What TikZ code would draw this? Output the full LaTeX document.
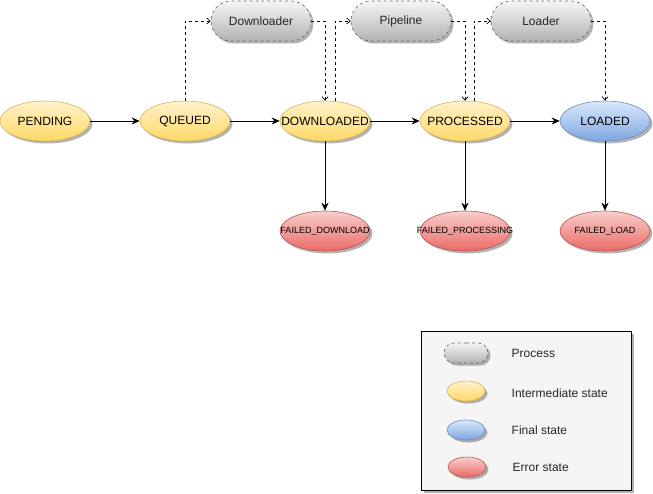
\documentclass[tikz,border=0pt]{standalone}
\usepackage{fontspec}
\setmainfont{Liberation Sans}
\usetikzlibrary{shapes.geometric,shapes.misc,arrows.meta,shadows}
\definecolor{ytop}{HTML}{FFF2CC}
\definecolor{ybot}{HTML}{FFD966}
\definecolor{ystroke}{HTML}{D6B656}
\definecolor{btop}{HTML}{DAE8FC}
\definecolor{bbot}{HTML}{7EA6E0}
\definecolor{bstroke}{HTML}{6C8EBF}
\definecolor{rtop}{HTML}{F8CECC}
\definecolor{rbot}{HTML}{EA6B66}
\definecolor{rstroke}{HTML}{B85450}
\definecolor{ptop}{HTML}{F5F5F5}
\definecolor{pbot}{HTML}{B3B3B3}
\definecolor{pstroke}{HTML}{666666}
\definecolor{legfill}{HTML}{F5F5F5}
\newcommand\ctrtxt[1]{\makebox[0pt][c]{#1}}
\begin{document}
\begin{tikzpicture}[x=1pt,y=-1pt,
  font=\fontsize{12}{14}\selectfont,
  shd/.style={drop shadow={shadow xshift=2.5pt,shadow yshift=-2.5pt,opacity=0.3,fill=black}},
  stbase/.style={ellipse,inner sep=0pt,line width=0.6pt,shd},
  inter/.style={stbase,draw=ystroke,top color=ytop,bottom color=ybot,minimum width=90pt,minimum height=40pt},
  finalst/.style={stbase,draw=bstroke,top color=btop,bottom color=bbot,minimum width=90pt,minimum height=40pt},
  errst/.style={stbase,draw=rstroke,top color=rtop,bottom color=rbot,minimum width=90pt,minimum height=40pt,font=\fontsize{9}{11}\selectfont},
  proc/.style={rounded rectangle,draw=pstroke,dash pattern=on 3pt off 3pt,line width=0.6pt,top color=ptop,bottom color=pbot,minimum width=100pt,minimum height=40pt,inner sep=0pt,shd,text=black!85},
  flow/.style={-{Stealth[length=8pt,width=7pt,inset=2.5pt]},line width=0.8pt},
  trig/.style={dash pattern=on 3pt off 3pt,-{Straight Barb[length=3.5pt,width=6pt]},line width=0.7pt},
  legtext/.style={anchor=west,inner sep=0pt,text=black!85}
]
\useasboundingbox (0,0) rectangle (653,494);

% processes
\node[proc] (pdl) at (261,21) {\ctrtxt{Downloader}};
\node[proc] (ppl) at (401,21) {\ctrtxt{Pipeline}};
\node[proc] (pld) at (541,21) {\ctrtxt{Loader}};

% states
\node[inter] (pending) at (45,121) {\ctrtxt{PENDING}};
\node[inter] (queued) at (185,121) {\ctrtxt{QUEUED}};
\node[inter] (downloaded) at (325,121) {\ctrtxt{DOWNLOADED}};
\node[inter] (processed) at (465,121) {\ctrtxt{PROCESSED}};
\node[finalst] (loaded) at (605,121) {\ctrtxt{LOADED}};

\node[errst] (fdl) at (325,231) {\ctrtxt{FAILED\_DOWNLOAD}};
\node[errst] (fpr) at (465,231) {\ctrtxt{FAILED\_PROCESSING}};
\node[errst] (fld) at (605,231) {\ctrtxt{FAILED\_LOAD}};

% solid flows
\draw[flow] (pending) -- (queued);
\draw[flow] (queued) -- (downloaded);
\draw[flow] (downloaded) -- (processed);
\draw[flow] (processed) -- (loaded);
\draw[flow] (downloaded) -- (fdl);
\draw[flow] (processed) -- (fpr);
\draw[flow] (loaded) -- (fld);

% dashed triggers
\draw[trig] (queued.north) |- (pdl.west);
\draw[trig] (pdl.east) -| (downloaded.north);
\draw[trig] (downloaded.63) |- (ppl.west);
\draw[trig] (ppl.east) -| (processed.north);
\draw[trig] (processed.66) |- (pld.west);
\draw[trig] (pld.east) -| (loaded.north);

% legend
\node[draw=black,fill=legfill,line width=0.7pt,minimum width=210pt,minimum height=159pt,inner sep=0pt,shd] (legend) at (526,410.5) {};
\node[proc,minimum width=44pt,minimum height=20pt] (lproc) at (466,353) {};
\node[stbase,draw=ystroke,top color=ytop,bottom color=ybot,minimum width=38pt,minimum height=20pt] (linter) at (466,391) {};
\node[stbase,draw=bstroke,top color=btop,bottom color=bbot,minimum width=38pt,minimum height=20pt] (lfinal) at (466,430) {};
\node[stbase,draw=rstroke,top color=rtop,bottom color=rbot,minimum width=38pt,minimum height=20pt] (lerr) at (467,467) {};
\node[legtext] (tproc) at (511.5,353) {Process};
\node[legtext] (tinter) at (511.5,393) {Intermediate state};
\node[legtext] (tfinal) at (511.5,430) {Final state};
\node[legtext] (terr) at (512.5,467) {Error state};
\end{tikzpicture}
\end{document}
